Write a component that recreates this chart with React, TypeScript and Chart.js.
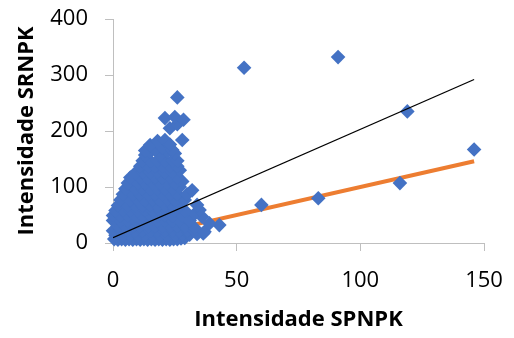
import { useEffect, useRef } from "react";
import { Chart, registerables } from "chart.js";

Chart.register(...registerables);

// Amostras: [Intensidade SPNPK, Intensidade SRNPK]
const amostras: [number, number][] = [
  [0.5, 7], [2, 6], [3.5, 7], [5, 6], [6.5, 7], [8, 6], [9.5, 7], [11, 6], [12.5, 7], [14, 6], [15.5, 7], [17, 6],
  [18.5, 7], [20, 6], [21.5, 7], [23, 6], [24.5, 7], [26, 7], [27.5, 8], [29, 9],
  [1, 14], [4, 14], [7, 14], [10, 14], [13, 14], [16, 14], [19, 14], [22, 14], [25, 14], [28, 15], [31, 15], [34, 16], [36.5, 17],
  [0, 22], [3, 22], [6, 22], [9, 22], [12, 22], [15, 22], [18, 22], [21, 22], [24, 22], [27, 22], [30, 22], [33, 22], [37, 20],
  [2, 30], [5, 30], [8, 30], [11, 30], [14, 30], [17, 30], [20, 30], [23, 30], [26, 30], [29, 30], [33, 27], [43, 32], [39, 35],
  [0, 40], [3, 40], [6, 40], [9, 40], [12, 40], [15, 40], [18, 40], [21, 40], [24, 40], [27, 40], [31, 40], [36, 47],
  [0, 49], [3, 49], [6, 49], [9, 49], [12, 49], [15, 49], [18, 49], [21, 49], [24, 49], [28, 49], [33, 52],
  [1, 58], [4, 58], [7, 58], [10, 58], [13, 58], [16, 58], [19, 58], [22, 58], [25, 58], [29, 58], [35, 59],
  [2, 67], [6, 67], [9, 67], [12, 67], [15, 67], [18, 67], [21, 67], [24, 67], [27, 67], [34, 68],
  [3, 77], [7, 77], [10, 77], [13, 77], [16, 77], [19, 77], [22, 77], [25, 77], [29, 77],
  [4, 87], [8, 87], [11, 87], [14, 87], [17, 87], [20, 87], [23, 87], [26, 87], [30, 87], [32, 94],
  [5, 97], [9, 97], [12, 97], [15, 97], [18, 97], [21, 97], [24, 97], [27, 100],
  [6, 107], [10, 107], [13, 107], [16, 107], [19, 107], [22, 107], [25, 107], [28, 110],
  [7, 117], [11, 117], [14, 117], [17, 117], [20, 117], [23, 117], [26, 117],
  [9, 125], [12, 127], [15, 127], [18, 127], [21, 127], [24, 127], [27, 130],
  [11, 137], [14, 137], [17, 137], [20, 137], [23, 137], [26, 137],
  [12, 147], [15, 147], [18, 147], [21, 147], [24, 147], [26, 147],
  [13, 157], [15, 163], [19, 157], [22, 163], [25, 160],
  [13, 165], [17, 168], [20, 170], [24, 166],
  [15, 175], [18, 182], [21, 184], [23, 176], [28, 184],
  [23, 205], [26, 212], [21, 223], [25, 225], [28.5, 220],
  [26, 260],
  [53, 313], [91, 332], [119, 235], [146, 167], [116, 107], [83, 80], [60, 68],
];

// Reta de tendência ajustada (extremos)
const tendenciaX = [0, 146];
const tendenciaY = [9.5, 292];

// Reta 1:1 (extremos)
const referenciaX = [0, 146];
const referenciaY = [0, 146];

const xTicks = [0, 50, 100, 150];
const yTicks = [0, 100, 200, 300, 400];

const FONT = "'Open Sans', 'Liberation Sans', sans-serif";
const AXIS_GREY = "#BFBFBF";

// Zera o recuo automático das escalas para que o layout.padding defina a área do gráfico
const semRecuo = (s: any) => {
  s.paddingTop = 0;
  s.paddingBottom = 0;
  s.paddingLeft = 0;
  s.paddingRight = 0;
};

export default function App() {
  const canvasRef = useRef<HTMLCanvasElement>(null);

  useEffect(() => {
    const canvas = canvasRef.current;
    if (!canvas) return;

    const chart = new Chart(canvas, {
      type: "scatter",
      data: {
        datasets: [
          {
            type: "line",
            label: "Tendência",
            data: tendenciaX.map((x, i) => ({ x, y: tendenciaY[i] })),
            borderColor: "#000000",
            borderWidth: 1.3,
            pointRadius: 0,
            order: 0,
          },
          {
            label: "SRNPK",
            data: amostras.map(([x, y]) => ({ x, y })),
            pointStyle: "rectRot",
            pointRadius: 7.3,
            backgroundColor: "#4472C4",
            borderWidth: 0,
            order: 1,
            clip: false,
          },
          {
            type: "line",
            label: "1:1",
            data: referenciaX.map((x, i) => ({ x, y: referenciaY[i] })),
            borderColor: "#ED7D31",
            borderWidth: 4,
            pointRadius: 0,
            order: 2,
          },
        ],
      },
      options: {
        responsive: false,
        animation: false,
        layout: { autoPadding: false, padding: { top: 19, right: 30, left: 0, bottom: 0 } },
        plugins: { legend: { display: false }, tooltip: { enabled: false } },
        scales: {
          x: {
            type: "linear",
            min: 0,
            max: 150,
            afterBuildTicks: (s: any) => {
              s.ticks = xTicks.map((v) => ({ value: v }));
            },
            afterFit: (s: any) => {
              s.height = 95;
              semRecuo(s);
            },
            grid: { drawOnChartArea: false, drawTicks: true, tickLength: 8, color: AXIS_GREY },
            border: { display: true, color: AXIS_GREY, width: 1 },
            ticks: { padding: 17, color: "#000000", font: { family: FONT, size: 22 } },
            title: {
              display: true,
              text: "Intensidade SPNPK",
              color: "#000000",
              font: { family: FONT, size: 22, weight: "bold" },
              padding: { top: 0, bottom: 5 },
            },
          },
          y: {
            type: "linear",
            min: 0,
            max: 400,
            afterBuildTicks: (s: any) => {
              s.ticks = yTicks.map((v) => ({ value: v }));
            },
            afterFit: (s: any) => {
              s.width = 113;
              semRecuo(s);
            },
            grid: { drawOnChartArea: false, drawTicks: true, tickLength: 8, color: AXIS_GREY },
            border: { display: true, color: AXIS_GREY, width: 1 },
            ticks: { padding: 17, color: "#000000", font: { family: FONT, size: 22 } },
            title: {
              display: true,
              text: "Intensidade SRNPK",
              color: "#000000",
              font: { family: FONT, size: 22, weight: "bold" },
              padding: { top: 14, bottom: 0 },
            },
          },
        },
      },
    });

    return () => chart.destroy();
  }, []);

  return (
    <div style={{ position: "fixed", left: 0, top: 0, width: 514, height: 338, background: "#ffffff" }}>
      <canvas ref={canvasRef} width={514} height={338} />
    </div>
  );
}
